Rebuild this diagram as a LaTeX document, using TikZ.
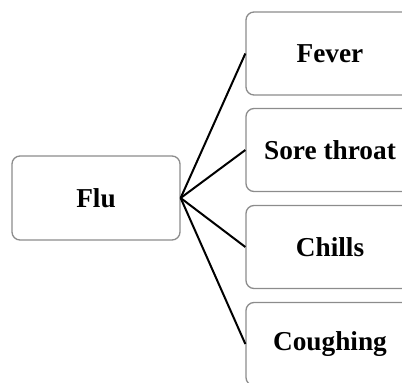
\documentclass[tikz,border=0pt]{standalone}
\usepackage{fontspec}
\setmainfont{Liberation Serif}
\begin{document}
\begin{tikzpicture}[x=1pt,y=-1pt,
  box/.style={draw=black!45, line width=1.3pt, rounded corners=8pt, minimum width=168pt, minimum height=84pt, inner sep=0pt, font=\fontsize{27.3}{31}\selectfont\bfseries},
  link/.style={line width=2pt, black}]
\useasboundingbox (0,0) rectangle (402,383);
\clip (0,0) rectangle (402,383);
\node[box] (flu) at (96,198) {Flu};
\node[box, minimum height=83pt] (fever) at (330,53.5) {Fever};
\node[box, minimum height=83pt] (sore) at (330,150) {Sore throat};
\node[box, minimum height=83pt] (chills) at (330,247) {Chills};
\node[box, minimum height=83pt] (cough) at (330,344) {Coughing};
\foreach \t in {fever,sore,chills,cough} \draw[link] (flu.east) -- (\t.west);
\end{tikzpicture}
\end{document}
